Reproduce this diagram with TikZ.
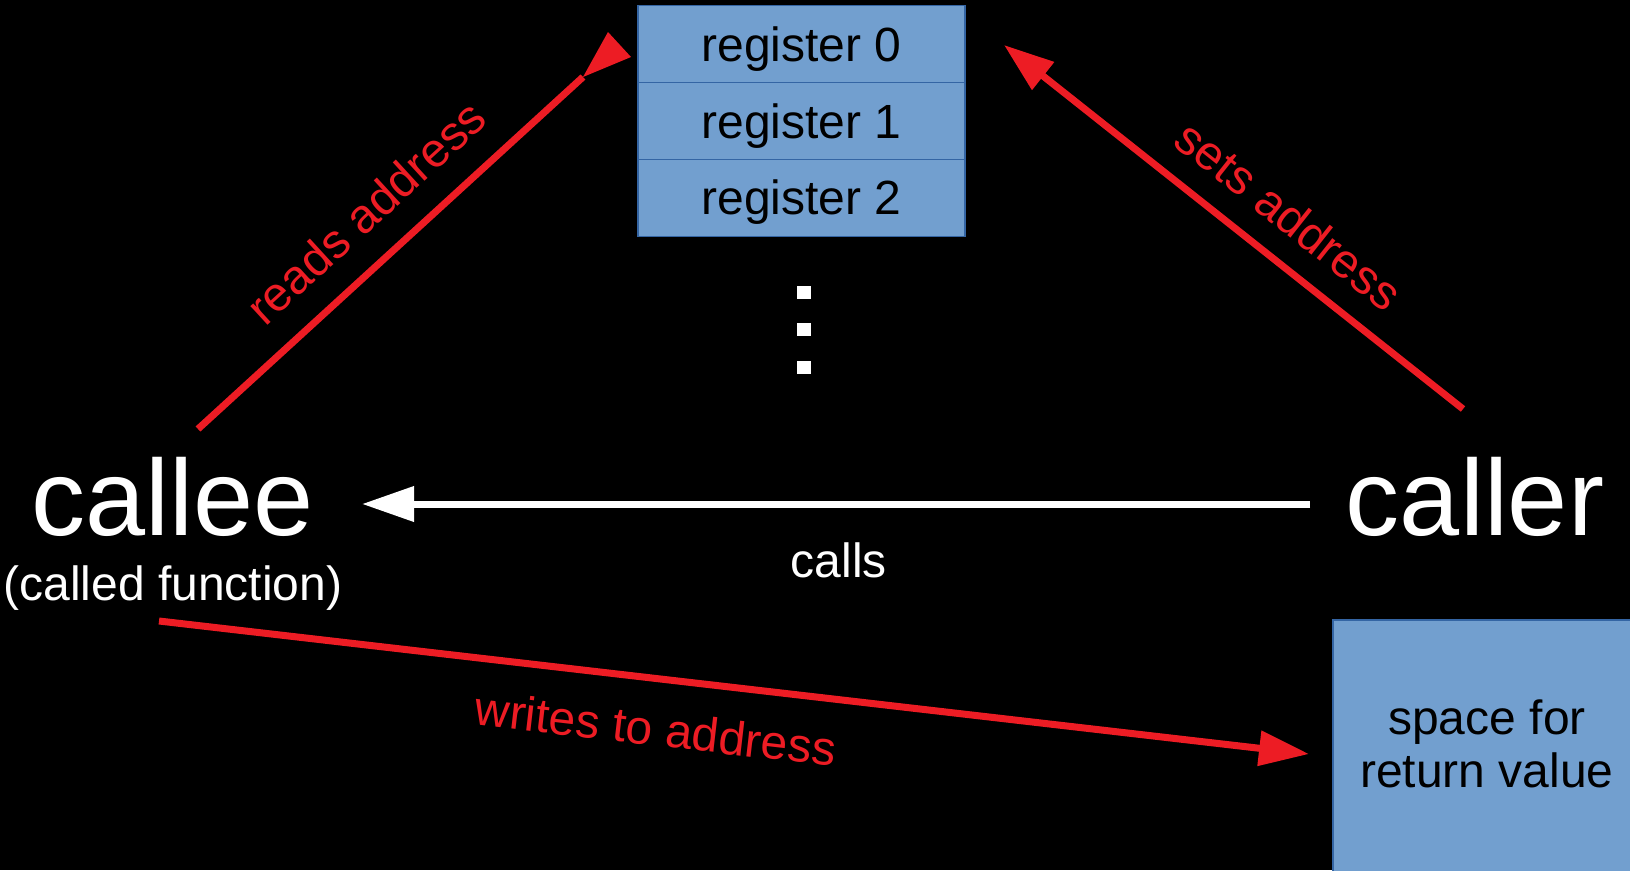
\documentclass[tikz,border=0pt]{standalone}
\usepackage{fontspec}
\setmainfont{Liberation Sans}
\usetikzlibrary{arrows.meta}
\definecolor{regblue}{RGB}{114,159,207}
\definecolor{regborder}{RGB}{52,101,164}
\definecolor{arrred}{RGB}{237,28,36}
\begin{document}
\begin{tikzpicture}[x=1pt,y=1pt,
  regbox/.style={rectangle, fill=regblue, draw=regborder, line width=1.2pt,
    minimum width=327pt, minimum height=76.8pt, inner sep=0pt,
    text height=34.4pt, text depth=0pt, font=\fontsize{48}{55}\selectfont},
  bigtext/.style={text=white, inner sep=0pt, anchor=base, font=\fontsize{108}{120}\selectfont},
  smalltext/.style={text=white, inner sep=0pt, anchor=base, font=\fontsize{48}{55}\selectfont},
  redlabel/.style={text=arrred, inner sep=0pt, sloped, font=\fontsize{48}{55}\selectfont},
  dotsq/.style={rectangle, fill=white, minimum width=14pt, minimum height=13pt, inner sep=0pt},
  redarrow/.style={draw=arrred, line width=7pt, -{Triangle[length=50pt,width=34pt]}},
  whitearrow/.style={draw=white, line width=7pt, -{Triangle[length=52pt,width=34pt]}}
]
\fill[black] (0,0) rectangle (1630,-870);
\useasboundingbox (0,0) rectangle (1630,-870);

% registers
\node[regbox] (reg0) at (801.5,-44.1) {register 0};
\node[regbox] (reg1) at (801.5,-120.9) {register 1};
\node[regbox] (reg2) at (801.5,-197.7) {register 2};

% dots
\node[dotsq] (dot1) at (803.7,-292.7) {};
\node[dotsq] (dot2) at (803.7,-329.8) {};
\node[dotsq] (dot3) at (803.7,-367.2) {};

% callee / caller
\node[bigtext] (callee) at (173,-535) {callee};
\node[smalltext] (calleesub) at (173,-600) {(called function)};
\node[bigtext] (caller) at (1475,-535) {caller};

% return value box
\node[rectangle, fill=regblue, draw=regborder, line width=1.2pt,
  minimum width=308pt, minimum height=264pt, inner sep=0pt] (retval) at (1487,-752) {};
\node[inner sep=0pt, align=center, font=\fontsize{48}{53}\selectfont] (retvaltext) at (1487,-744) {space for\\return value};

% endpoints
\coordinate (callsTail) at (1310,-504);
\coordinate (callsTip) at (362,-504);
\coordinate (readsStart) at (198,-429);
\coordinate (readsEnd) at (583,-77);
\coordinate (readsHeadA) at (608,-32);
\coordinate (readsHeadTip) at (631,-57);
\coordinate (setsStart) at (1463,-409);
\coordinate (setsTip) at (1004,-45);
\coordinate (writesStart) at (159,-621);
\coordinate (writesTip) at (1309,-754);

% calls
\draw[whitearrow] (callsTail) -- (callsTip);
\node[smalltext] (callslabel) at (839,-577) {calls};

% reads address
\draw[draw=arrred, line width=7pt] (readsStart) -- node[redlabel, pos=0.518, above=25.7pt] {reads address} (readsEnd);
\fill[arrred] (readsEnd) -- (readsHeadA) -- (readsHeadTip) -- cycle;

% sets address
\draw[redarrow] (setsStart) -- node[redlabel, pos=0.438, above=22.8pt] {sets address} (setsTip);

% writes to address
\draw[redarrow] (writesStart) -- node[redlabel, pos=0.437, below=28.7pt] {writes to address} (writesTip);
\end{tikzpicture}
\end{document}
